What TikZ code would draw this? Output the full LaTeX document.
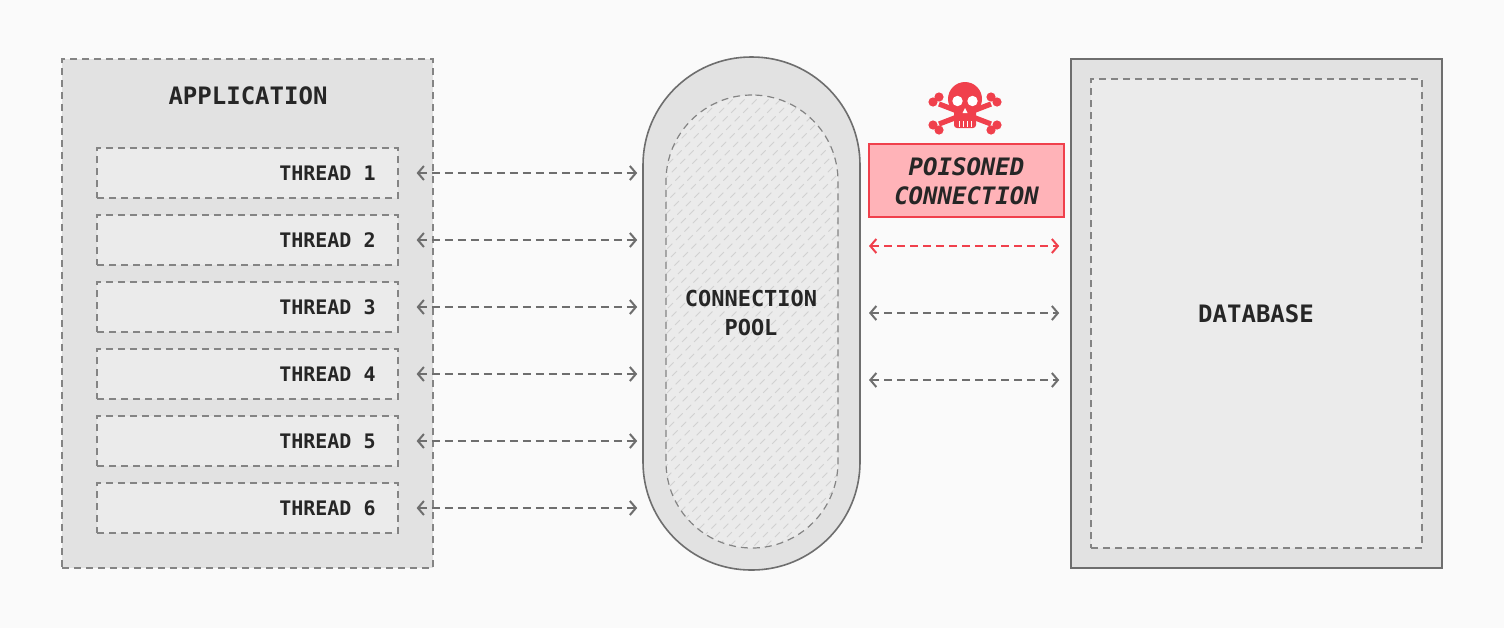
\documentclass[tikz,border=0pt]{standalone}
\usepackage{fontspec}
\setmonofont{DejaVu Sans Mono}
\usetikzlibrary{arrows.meta,positioning}
\definecolor{bgcol}{HTML}{FAFAFA}
\definecolor{boxcol}{HTML}{E2E2E2}
\definecolor{thrcol}{HTML}{EBEBEB}
\definecolor{edgecol}{HTML}{6E6E6E}
\definecolor{poison}{HTML}{F0404C}
\definecolor{poisonfill}{HTML}{FFB3B8}
\tikzset{
  lbl/.style={font=\ttfamily\bfseries\fontsize{10pt}{12pt}\selectfont, text=black!85, inner sep=0pt},
  biglbl/.style={lbl, font=\ttfamily\bfseries\fontsize{12pt}{14.5pt}\selectfont},
  dashbox/.style={draw=edgecol!85, dash pattern=on 3.5pt off 2.5pt, line width=0.6pt},
  thread/.style={dashbox, fill=thrcol, minimum width=150.5pt, minimum height=25pt, inner sep=0pt},
  link/.style={edgecol, line width=0.9pt, dash pattern=on 4pt off 2.5pt, {Straight Barb[length=3pt,width=7pt,line width=1pt]}-{Straight Barb[length=3pt,width=7pt,line width=1pt]}},
  bone/.style={poison, line width=2.6pt},
}
\begin{document}
\begin{tikzpicture}[x=0.5pt,y=-0.5pt]
  \fill[bgcol] (0,0) rectangle (1504,628);
  \useasboundingbox (0,0) rectangle (1504,628);
  % application
  \node[dashbox, fill=boxcol, minimum width=185.5pt, minimum height=254.5pt, inner sep=0pt] (app) at (247.5,313.5) {};
  \node[biglbl] at (248,96) {APPLICATION};
  \foreach \i in {1,...,6}
    {
    \node[thread] (t\i) at (247.5,{173+67*(\i-1)}) {};
    \node[lbl, anchor=east] at (376,{173+67*(\i-1)}) {THREAD \i};
    }
  % pool
  \node[draw=edgecol, fill=boxcol, line width=0.8pt, rounded corners=54pt, minimum width=108.5pt, minimum height=256.5pt, inner sep=0pt] (pool) at (751.5,313.5) {};
  \node[dashbox, fill=thrcol, rounded corners=43pt, minimum width=86pt, minimum height=226.5pt, inner sep=0pt,
    path picture={\foreach \k in {-60,...,25} \draw[black!18, line width=0.4pt] ([xshift=\k*6pt]path picture bounding box.south) ++(-20pt,-20pt) -- ++(300pt,300pt);}] (inner) at (752,321.5) {};
  \node[lbl, font=\ttfamily\bfseries\fontsize{11pt}{14.5pt}\selectfont, align=center] at (751,313) {CONNECTION\\POOL};
  \foreach \i in {1,...,6}
    \draw[link, shorten <=9pt, shorten >=2.5pt] (t\i.east) -- (t\i.east -| pool.west);
  % database
  \node[draw=edgecol, fill=boxcol, line width=0.8pt, minimum width=185.5pt, minimum height=254.5pt, inner sep=0pt] (db) at (1256.5,313.5) {};
  \node[dashbox, fill=thrcol, minimum width=165.5pt, minimum height=234.5pt, inner sep=0pt] at (1256.5,313.5) {};
  \node[biglbl] at (1256,314) {DATABASE};
  % pool to database
  \coordinate (c1) at (860,246);
  \coordinate (c2) at (860,313);
  \coordinate (c3) at (860,380);
  \draw[link, poison, shorten <=4.5pt, shorten >=5.5pt] (c1) -- (c1 -| db.west);
  \draw[link, shorten <=4.5pt, shorten >=5.5pt] (c2) -- (c2 -| db.west);
  \draw[link, shorten <=4.5pt, shorten >=5.5pt] (c3) -- (c3 -| db.west);
  % poisoned
  \node[draw=poison, fill=poisonfill, line width=0.7pt, minimum width=97.5pt, minimum height=36.5pt, inner sep=0pt] (poisoned) at (966.5,180.5) {};
  \node[biglbl, font=\ttfamily\bfseries\itshape\fontsize{12pt}{14.5pt}\selectfont, align=center] at (966.5,181) {POISONED\\CONNECTION};
  % skull
  \coordinate (skull) at (965,100);
  \draw[bone] (939,104) -- (991,124);
  \draw[bone] (991,104) -- (939,124);
  \foreach \x/\y in {933/102,939/97,997/102,991/97,933/125,939/130,997/125,991/130}
    \fill[poison] (\x,\y) circle (2.3pt);
  \fill[poison] (965,99) circle (8.5pt);
  \fill[poison, rounded corners=1.5pt] (954,106) rectangle (976,128);
  \fill[white] (957.5,101) circle (2.6pt);
  \fill[white] (972.5,101) circle (2.6pt);
  \fill[white] (965,108) -- (962.5,113) -- (967.5,113) -- cycle;
  \foreach \x in {959,963,967,971}
    \draw[white, line width=0.5pt] (\x,121) -- (\x,127);
\end{tikzpicture}
\end{document}
